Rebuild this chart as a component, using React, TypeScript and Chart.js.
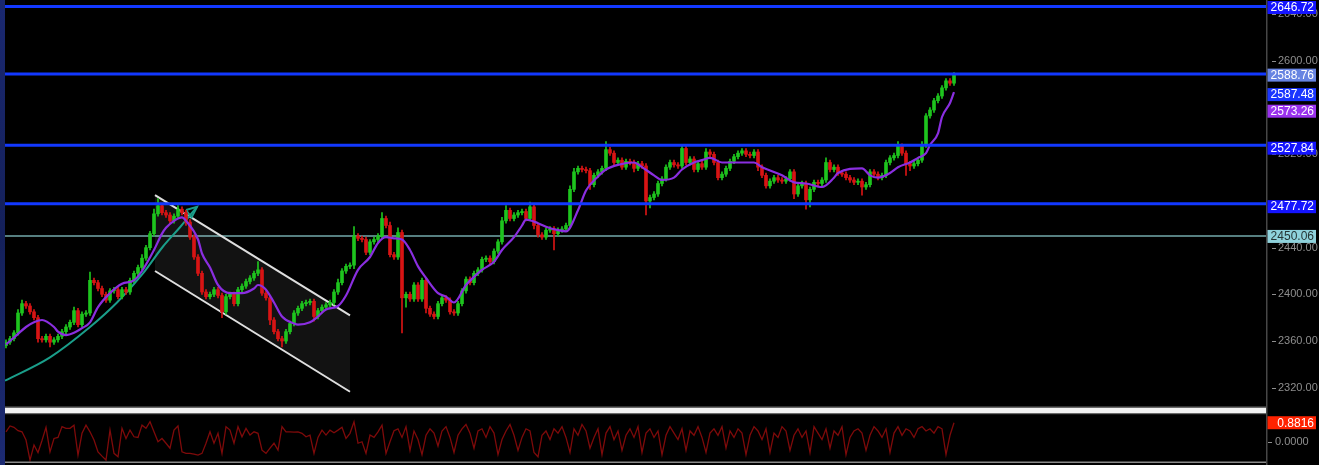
import React, { useEffect, useRef } from "react";
import { Chart, registerables } from "chart.js";

Chart.register(...registerables);

// ---------- data ----------
const firstOpen = 2356;

const closes = [
  2359, 2362, 2367, 2384, 2392, 2390, 2385, 2380, 2362, 2361, 2364, 2359, 2361, 2364, 2368, 2372, 2376, 2386, 2374, 2383,
  2384, 2412, 2410, 2405, 2400, 2395, 2403, 2404, 2398, 2404, 2402, 2412, 2418, 2423, 2431, 2440, 2452, 2469, 2476, 2470,
  2468, 2463, 2467, 2473, 2470, 2462, 2449, 2432, 2418, 2402, 2398, 2400, 2404, 2399, 2385, 2398, 2400, 2392, 2404, 2407,
  2411, 2414, 2418, 2421, 2401, 2397, 2378, 2368, 2362, 2360, 2368, 2375, 2384, 2388, 2392, 2393, 2394, 2381, 2386, 2389,
  2391, 2393, 2402, 2410, 2420, 2424, 2425, 2450, 2448, 2447, 2436, 2445, 2447, 2450, 2465, 2459, 2434, 2432, 2453, 2397,
  2400, 2396, 2408, 2396, 2412, 2388, 2383, 2381, 2392, 2397, 2395, 2385, 2384, 2392, 2403, 2413, 2410, 2418, 2421, 2430,
  2431, 2428, 2437, 2445, 2463, 2472, 2465, 2468, 2470, 2471, 2465, 2475, 2459, 2451, 2449, 2455, 2456, 2452, 2455, 2456,
  2459, 2490, 2505, 2508, 2507, 2506, 2494, 2502, 2505, 2508, 2524, 2521, 2513, 2515, 2509, 2514, 2513, 2508, 2512, 2510,
  2480, 2483, 2486, 2495, 2499, 2509, 2513, 2511, 2510, 2525, 2513, 2516, 2507, 2512, 2509, 2522, 2520, 2513, 2500, 2503,
  2508, 2514, 2518, 2521, 2523, 2520, 2519, 2522, 2509, 2502, 2493, 2497, 2500, 2498, 2497, 2499, 2505, 2486, 2493, 2495,
  2481, 2490, 2496, 2495, 2498, 2513, 2507, 2509, 2504, 2503, 2500, 2498, 2496, 2497, 2492, 2494, 2505, 2503, 2500, 2502,
  2513, 2517, 2519, 2527, 2521, 2512, 2510, 2512, 2515, 2528, 2553, 2558, 2566, 2570, 2577, 2583, 2581, 2588,
];

const upWick = [
  2, 2, 2, 3, 3, 2, 2, 2, 2, 2, 2, 2, 2, 2, 2, 2, 2, 3, 2, 2,
  2, 7, 2, 2, 2, 2, 2, 2, 2, 2, 2, 2, 2, 2, 3, 2, 2, 4, 6, 2,
  2, 2, 2, 3, 2, 2, 2, 2, 2, 2, 2, 2, 2, 2, 2, 2, 2, 2, 2, 2,
  2, 2, 2, 7, 2, 2, 2, 2, 2, 2, 2, 2, 2, 2, 2, 2, 2, 2, 2, 2,
  2, 2, 2, 3, 2, 2, 2, 8, 2, 2, 2, 2, 2, 2, 5, 2, 3, 2, 4, 2,
  2, 2, 2, 2, 2, 2, 2, 2, 2, 2, 2, 2, 2, 2, 2, 2, 2, 2, 2, 2,
  2, 2, 2, 2, 3, 4, 2, 2, 2, 2, 2, 4, 2, 2, 2, 2, 2, 2, 2, 2,
  2, 3, 3, 2, 2, 2, 2, 2, 2, 2, 7, 2, 2, 2, 2, 2, 2, 2, 2, 2,
  2, 2, 2, 2, 2, 2, 2, 2, 2, 3, 2, 2, 2, 2, 2, 3, 2, 2, 2, 2,
  2, 2, 2, 2, 2, 2, 2, 2, 2, 2, 2, 2, 2, 2, 2, 2, 2, 2, 2, 2,
  2, 2, 2, 2, 2, 4, 2, 2, 2, 2, 2, 2, 2, 2, 2, 2, 2, 2, 2, 2,
  2, 2, 2, 4, 2, 2, 2, 2, 2, 3, 2, 2, 2, 2, 2, 2, 2, 2,
];

const downWick = [
  2, 2, 2, 2, 2, 2, 2, 2, 3, 2, 2, 4, 2, 2, 2, 2, 2, 2, 2, 2,
  2, 2, 2, 2, 2, 2, 2, 2, 2, 2, 2, 2, 2, 2, 2, 2, 2, 2, 2, 2,
  2, 2, 2, 2, 2, 3, 2, 2, 2, 2, 2, 2, 2, 2, 5, 2, 2, 2, 2, 2,
  2, 2, 2, 2, 2, 2, 4, 2, 2, 5, 2, 2, 2, 2, 2, 2, 2, 4, 2, 2,
  2, 2, 2, 2, 2, 2, 2, 3, 2, 2, 2, 2, 2, 2, 2, 2, 2, 2, 2, 30,
  8, 2, 2, 2, 2, 4, 2, 2, 2, 2, 2, 2, 2, 2, 2, 2, 2, 2, 2, 2,
  2, 2, 2, 2, 2, 2, 2, 2, 2, 2, 2, 2, 3, 2, 2, 2, 2, 14, 2, 2,
  2, 2, 2, 2, 2, 2, 4, 2, 2, 2, 2, 2, 2, 2, 2, 2, 2, 3, 2, 2,
  12, 6, 2, 2, 2, 2, 2, 2, 2, 2, 2, 2, 2, 2, 2, 2, 2, 2, 2, 2,
  2, 2, 2, 2, 2, 2, 2, 2, 3, 2, 2, 2, 2, 2, 2, 2, 2, 4, 2, 2,
  8, 6, 2, 2, 2, 2, 2, 2, 2, 2, 2, 2, 2, 2, 7, 2, 2, 2, 2, 2,
  2, 2, 2, 2, 2, 10, 4, 2, 2, 2, 2, 2, 2, 2, 2, 2, 2, 2,
];

const maIndex = [
  0, 2, 5, 7, 9, 12, 13, 15, 17, 19, 21, 23, 26, 29, 32, 34, 37, 39, 40, 42, 44, 45, 48, 49, 51, 53, 56, 59, 62, 63,
  65, 67, 69, 72, 73, 76, 78, 80, 83, 85, 88, 91, 93, 95, 97, 99, 101, 103, 105, 108, 110, 112, 115, 117, 119, 122,
  124, 127, 129, 130, 133, 135, 138, 140, 143, 145, 148, 150, 153, 157, 159, 162, 164, 167, 169, 172, 174, 176, 179,
  181, 183, 187, 189, 194, 197, 200, 204, 207, 208, 214, 216, 218, 221, 223, 226, 228, 230, 231, 233, 234, 236, 237,
];
const maValue = [
  2357, 2363, 2372, 2376, 2378, 2372, 2368, 2365, 2367, 2371, 2376, 2389, 2401, 2409, 2412, 2420, 2438, 2452, 2457, 2463,
  2466, 2463, 2447, 2435, 2423, 2408, 2401, 2401, 2405, 2408, 2404, 2393, 2381, 2375, 2374, 2376, 2381, 2387, 2390, 2399,
  2421, 2432, 2444, 2449, 2448, 2447, 2438, 2424, 2414, 2401, 2398, 2393, 2408, 2415, 2421, 2428, 2438, 2449, 2459, 2464,
  2461, 2458, 2455, 2454, 2472, 2489, 2501, 2507, 2511, 2513, 2509, 2502, 2498, 2500, 2507, 2513, 2515, 2517, 2513, 2513,
  2513, 2513, 2509, 2502, 2496, 2495, 2492, 2500, 2504, 2508, 2502, 2500, 2504, 2509, 2513, 2517, 2521, 2528, 2538, 2552,
  2564, 2573.26,
];

const oscValues = [
  0.46, 0.73, 0.67, 0.51, 0.46, 0.08, -0.85, -0.15, -0.5, 0.06, 0.67, -0.47, 0.15, 0.2, 0.7, 0.62, 0.62, 0.77, -0.62, 0.39,
  0.77, 0.46, 0.08, -0.47, -0.67, -0.85, 0.54, -0.54, -0.7, 0.62, 0.15, 0.54, 0.23, 0.2, 0.77, 0.62, 0.93, 0.46, 0, 0.15,
  -0.07, -0.3, 0.54, 0.73, -0.47, -0.54, -0.54, -0.58, -0.62, -0.54, -0.07, 0.46, -0.07, 0.39, -0.54, 0.7, 0.54, -0.07, 0.7, 0.23,
  0.62, 0.31, 0.46, 0.39, -0.39, -0.54, -0.3, -0.07, -0.39, 0.7, 0.46, 0.46, 0.45, 0.46, 0.39, 0.23, 0.31, -0.54, 0.2, 0.54,
  0.31, 0.54, 0.42, 0.54, 0.67, 0.15, 0.39, 0.93, -0.07, 0, -0.54, 0.31, 0.2, 0.46, 0.77, -0.54, 0, 0.51,
  0.6, 0.2, 0.7, -0.4, 0.5, 0.1, -0.6, 0.3, 0.6, 0.4, -0.2, 0.5, 0.7, 0.2, -0.5, 0.3, 0.6, 0.8, 0.4, -0.3,
  0.5, 0.6, 0.2, 0.7, 0.4, -0.6, 0.1, 0.5, 0.8, 0.3, -0.4, 0.2, 0.6, 0.5, -0.5, -0.7, 0.3, 0.5, 0.1, 0.6,
  0.4, 0.7, 0.2, -0.5, 0.6, 0.3, 0.8, 0.5, -0.3, 0.2, 0.6, -0.6, 0.4, 0.7, 0.1, 0.5, -0.4, 0.3, 0.6, 0.2,
  0.7, -0.5, 0.4, 0.6, 0.2, 0.5, -0.6, 0.3, 0.7, 0.4, 0.1, 0.6, -0.4, 0.5, 0.3, 0.7, 0.2, -0.5, 0.4, 0.6,
  0.3, 0.7, -0.3, 0.5, 0.2, 0.6, 0.4, -0.6, 0.3, 0.7, 0.5, 0.1, 0.6, -0.5, 0.4, 0.2, 0.7, 0.5, -0.4, 0.3,
  0.6, 0.2, 0.5, -0.5, 0.7, 0.4, 0.1, 0.6, -0.3, 0.5, 0.3, 0.7, -0.6, 0.2, 0.5, 0.6, 0.4, -0.4, 0.3, 0.7,
  0.5, 0.2, 0.6, -0.5, 0.4, 0.7, 0.3, 0.6, 0.5, 0.2, 0.6, 0.7, 0.5, 0.6, 0.4, 0.7, 0.6, -0.6, 0.3, 0.8816,
];

const blueLevels = [2646.72, 2588.76, 2527.84, 2477.72];
const pivotLevel = 2450.06;
const yTicks = [2320, 2360, 2400, 2440, 2520, 2600, 2640];

const channelX = [37.25, 86];
const channelUpper = [2485, 2382];
const channelLower = [2420, 2316.5];

const curveX = [-0.25, 11, 21, 27.75, 34.25, 39.25, 43.5, 47.75];
const curveY = [2326, 2346, 2372, 2393, 2418, 2441, 2457.5, 2475];
const arrowX = [45, 47.75, 46.4, 45];
const arrowY = [2472.3, 2475, 2466, 2472.3];

const priceBadges = [
  { label: "2646.72", value: 2646.72, bg: "#1414ff", fg: "#ffffff", dy: 1 },
  { label: "2588.76", value: 2588.76, bg: "#6784e2", fg: "#ffffff", dy: 1 },
  { label: "2587.48", value: 2587.48, bg: "#1a36ff", fg: "#ffffff", dy: 19 },
  { label: "2573.26", value: 2573.26, bg: "#9a32ee", fg: "#ffffff", dy: 19 },
  { label: "2527.84", value: 2527.84, bg: "#1414ff", fg: "#ffffff", dy: 3 },
  { label: "2477.72", value: 2477.72, bg: "#1414ff", fg: "#ffffff", dy: 3 },
  { label: "2450.06", value: 2450.06, bg: "#8fd2dc", fg: "#263636", dy: 0.5 },
];
const oscBadge = { label: "0.8816", value: 0.8816, bg: "#ff2200", fg: "#ffffff" };
const oscTick = 0;

// ---------- styles ----------
const GREEN = "#1ec41e";
const RED = "#d81414";
const BLUE_LINE = "#1238ff";
const FONT = '"Liberation Sans", Arial, sans-serif';
const TICK_COLOR = "#8e8e8e";

const overlay = {
  id: "overlay",
  beforeDatasetsDraw(chart: any) {
    const { ctx, chartArea, scales } = chart;
    const y = scales.y;
    ctx.save();
    const py = y.getPixelForValue(pivotLevel);
    ctx.strokeStyle = "#567f80";
    ctx.lineWidth = 2;
    ctx.beginPath();
    ctx.moveTo(5, py);
    ctx.lineTo(chartArea.right, py);
    ctx.stroke();
    ctx.restore();
  },
  afterDatasetsDraw(chart: any) {
    const { ctx, chartArea, scales } = chart;
    const y = scales.y;
    ctx.save();
    ctx.strokeStyle = BLUE_LINE;
    ctx.lineWidth = 3;
    for (const lv of blueLevels) {
      const p = y.getPixelForValue(lv);
      ctx.beginPath();
      ctx.moveTo(5, p);
      ctx.lineTo(chartArea.right, p);
      ctx.stroke();
    }
    ctx.restore();
  },
  afterDraw(chart: any) {
    const { ctx, chartArea, scales, height } = chart;
    const y = scales.y;
    const yi = scales.yi;
    const axX = chartArea.right;
    ctx.save();
    // pane separator
    ctx.fillStyle = "#6a6a6a";
    ctx.fillRect(0, 406.5, axX, 1.5);
    ctx.fillStyle = "#f2f2f2";
    ctx.fillRect(0, 408, axX, 5);
    ctx.fillStyle = "#6a6a6a";
    ctx.fillRect(0, 413, axX, 1.2);
    // bottom line
    ctx.fillStyle = "#8a8a8a";
    ctx.fillRect(0, 461.5, axX, 1.5);
    // axis line
    ctx.fillStyle = "#474747";
    ctx.fillRect(axX, 0, 1.5, height);
    // tick dashes
    ctx.strokeStyle = TICK_COLOR;
    ctx.lineWidth = 1;
    for (const t of yTicks) {
      const p = Math.round(y.getPixelForValue(t)) + 0.5;
      ctx.beginPath();
      ctx.moveTo(axX + 6, p);
      ctx.lineTo(axX + 10, p);
      ctx.stroke();
    }
    // oscillator zero label
    const pz = yi.getPixelForValue(oscTick);
    ctx.beginPath();
    ctx.moveTo(axX + 2, Math.round(pz) + 0.5);
    ctx.lineTo(axX + 6, Math.round(pz) + 0.5);
    ctx.stroke();
    ctx.fillStyle = TICK_COLOR;
    ctx.font = `11px ${FONT}`;
    ctx.textAlign = "left";
    ctx.textBaseline = "middle";
    ctx.fillText(oscTick.toFixed(4), axX + 9, pz);
    // badges
    const drawBadge = (yc: number, text: string, bg: string, fg: string) => {
      const h = 13;
      ctx.fillStyle = bg;
      ctx.fillRect(axX + 1.5, yc - h / 2, 48.5, h);
      ctx.fillStyle = fg;
      ctx.font = `12px ${FONT}`;
      ctx.textAlign = "right";
      ctx.textBaseline = "middle";
      ctx.fillText(text, axX + 48, yc + 0.5);
    };
    for (const b of priceBadges) {
      drawBadge(y.getPixelForValue(b.value) + b.dy, b.label, b.bg, b.fg);
    }
    drawBadge(yi.getPixelForValue(oscBadge.value), oscBadge.label, oscBadge.bg, oscBadge.fg);
    // left texture strip
    const g = ctx.createLinearGradient(0, 0, 0, height);
    g.addColorStop(0, "#1a2870");
    g.addColorStop(0.5, "#14205a");
    g.addColorStop(1, "#1c2a72");
    ctx.fillStyle = g;
    ctx.fillRect(0, 0, 5, height);
    ctx.restore();
  },
};

export default function App() {
  const ref = useRef<HTMLCanvasElement>(null);

  useEffect(() => {
    const canvas = ref.current;
    if (!canvas) return;
    const opens = closes.map((c, i) => (i === 0 ? firstOpen : closes[i - 1]));
    const bodies = closes.map((c, i) => ({ x: i, y: [opens[i], c] }));
    const wicks = closes.map((c, i) => ({
      x: i,
      y: [Math.min(opens[i], c) - downWick[i], Math.max(opens[i], c) + upWick[i]],
    }));
    const colors = closes.map((c, i) => (c >= opens[i] ? GREEN : RED));

    const chart = new Chart(canvas, {
      type: "line",
      data: {
        datasets: [
          {
            data: channelX.map((x, i) => ({ x, y: channelUpper[i] })),
            borderColor: "#dedede",
            borderWidth: 2,
            fill: 1,
            backgroundColor: "rgba(255,255,255,0.07)",
            pointRadius: 0,
            order: 10,
          } as any,
          {
            data: channelX.map((x, i) => ({ x, y: channelLower[i] })),
            borderColor: "#dedede",
            borderWidth: 2,
            fill: false,
            pointRadius: 0,
            order: 10,
          },
          {
            data: curveX.map((x, i) => ({ x, y: curveY[i] })),
            borderColor: "#1a9e8a",
            borderWidth: 2,
            cubicInterpolationMode: "monotone",
            fill: false,
            pointRadius: 0,
            order: 9,
          },
          {
            data: arrowX.map((x, i) => ({ x, y: arrowY[i] })),
            borderColor: "#1a9e8a",
            borderWidth: 2,
            fill: false,
            pointRadius: 0,
            order: 9,
          },
          {
            type: "bar",
            data: wicks as any,
            backgroundColor: colors,
            barThickness: 1,
            grouped: false,
            borderWidth: 0,
            order: 3,
          } as any,
          {
            type: "bar",
            data: bodies as any,
            backgroundColor: colors,
            barThickness: 3,
            minBarLength: 1,
            grouped: false,
            borderWidth: 0,
            order: 2,
          } as any,
          {
            data: maIndex.map((x, i) => ({ x, y: maValue[i] })),
            borderColor: "#8a2ee0",
            borderWidth: 2.2,
            cubicInterpolationMode: "monotone",
            fill: false,
            pointRadius: 0,
            order: 1,
          },
          {
            data: oscValues.map((v, i) => ({ x: i, y: v })),
            yAxisID: "yi",
            borderColor: "#7e0a0a",
            borderWidth: 1.3,
            fill: false,
            pointRadius: 0,
            order: 1,
          },
        ],
      },
      options: {
        animation: false,
        responsive: true,
        maintainAspectRatio: false,
        layout: { padding: 0 },
        plugins: { legend: { display: false }, tooltip: { enabled: false } },
        scales: {
          x: { type: "linear", min: -1.5, max: 315, display: false, offset: false },
          y: {
            position: "right",
            min: 2253.7,
            max: 2652.3,
            grid: { display: false, drawTicks: false },
            border: { display: false },
            ticks: {
              color: TICK_COLOR,
              font: { family: FONT, size: 11 },
              padding: 12,
              autoSkip: false,
              callback: (v: any) => Number(v).toFixed(2),
            },
            afterBuildTicks: (s: any) => {
              s.ticks = yTicks.map((v) => ({ value: v }));
            },
            afterFit: (s: any) => {
              s.width = 53;
              s.paddingTop = 0;
              s.paddingBottom = 0;
            },
          },
          yi: { position: "right", display: false, min: -1.08, max: 20.5 },
        },
      } as any,
      plugins: [overlay],
    });
    return () => chart.destroy();
  }, []);

  return (
    <div style={{ position: "fixed", left: 0, top: 0, width: 1319, height: 465, background: "#000" }}>
      <canvas ref={ref} />
    </div>
  );
}
